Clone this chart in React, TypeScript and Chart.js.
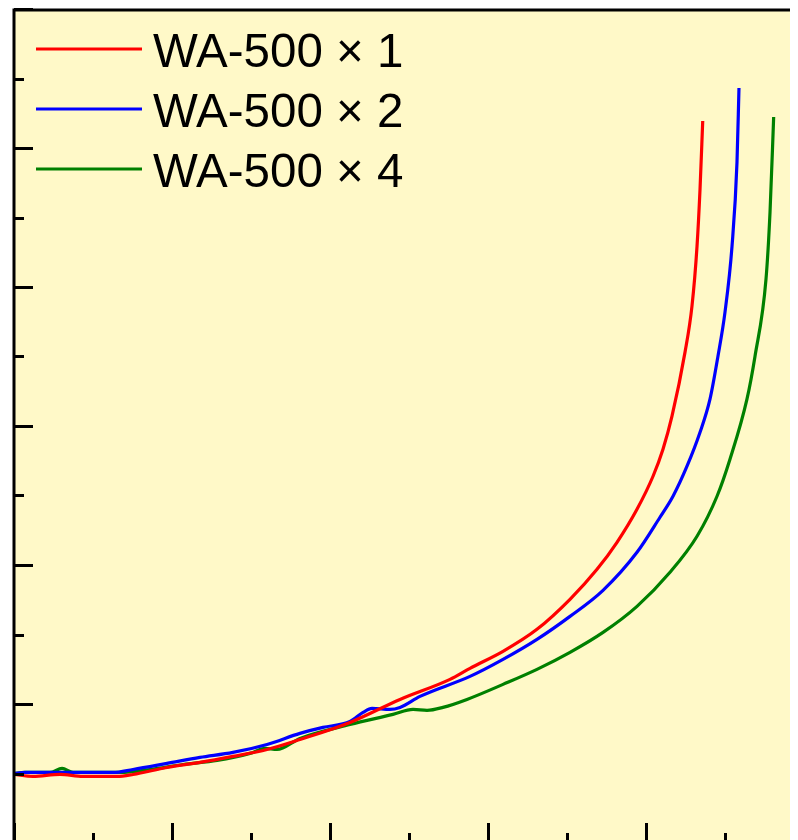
import React, { useEffect, useRef } from "react";
import { Chart, registerables } from "chart.js";

Chart.register(...registerables);

// Series labels
const labels = ["WA-500 × 1", "WA-500 × 2", "WA-500 × 4"];
const colors = ["#ff0000", "#0000ff", "#008000"];

// Axis ranges / ticks (no tick labels shown in the reference)
const xMin = 0;
const xMax = 100;
const xMajorStep = 20;
const xMinorStep = 10;
const yMin = 0;
const yMax = 120;
const yMajorStep = 20;
const yMinorStep = 10;

// Series 1 (red)
const redX = [0, 2.41, 5.82, 8.73, 13.04, 15.06, 19.37, 23.54, 27.72, 32.03, 36.2, 42.53, 48.86, 55.19, 57.72, 61.9, 66.2, 70.38, 73.8, 76.33, 78.86, 80.89, 82.15, 83.29, 84.94, 85.82, 86.46, 86.84, 87.18];
const redY = [9.86, 9.58, 9.86, 9.58, 9.58, 9.86, 10.87, 11.59, 12.46, 13.46, 14.9, 17.35, 20.66, 23.54, 25.13, 27.57, 30.74, 35.06, 39.38, 43.27, 48.02, 52.77, 56.66, 61.41, 70.63, 77.25, 85.89, 94.1, 103.89];

// Series 2 (blue)
const blueX = [0, 1.39, 4.56, 8.73, 12.53, 15.06, 19.37, 23.54, 27.72, 32.03, 36.2, 39.11, 42.53, 44.18, 45.32, 47.59, 48.86, 51.39, 57.72, 61.9, 66.2, 70.38, 74.56, 78.86, 81.77, 83.42, 85.19, 86.84, 88.1, 89.11, 90.0, 90.89, 91.52, 91.77];
const blueY = [10.01, 10.15, 10.15, 10.15, 10.15, 10.58, 11.45, 12.31, 13.03, 14.18, 15.77, 16.63, 17.49, 18.79, 19.37, 19.22, 19.51, 21.09, 23.97, 26.42, 29.3, 32.61, 36.36, 41.83, 46.87, 49.89, 54.21, 59.1, 63.86, 70.05, 76.39, 85.89, 97.98, 108.64];

// Series 3 (green)
const greenX = [0, 1.39, 4.56, 6.08, 7.47, 10.89, 13.42, 17.22, 21.39, 25.7, 29.87, 31.77, 33.29, 36.2, 42.53, 47.97, 50.51, 52.28, 54.3, 57.34, 61.9, 66.2, 70.38, 74.56, 78.86, 83.04, 86.46, 88.99, 90.63, 92.78, 93.8, 95.19, 95.7, 96.16];
const greenY = [10.01, 10.15, 10.15, 10.73, 10.15, 10.15, 10.15, 10.58, 11.3, 11.88, 12.89, 13.61, 13.46, 15.05, 17.06, 18.5, 19.22, 19.08, 19.51, 20.66, 22.82, 24.98, 27.43, 30.3, 34.05, 38.95, 44.13, 49.89, 55.22, 63.86, 70.05, 81.14, 90.79, 104.46];

const seriesX = [redX, blueX, greenX];
const seriesY = [redY, blueY, greenY];

const framePlugin = {
  id: "frameAndTicks",
  beforeDraw(chart: any) {
    const { ctx, chartArea } = chart;
    ctx.save();
    ctx.fillStyle = "#fff9c8";
    ctx.fillRect(chartArea.left, chartArea.top, chart.width - chartArea.left, chart.height - chartArea.top);
    ctx.restore();
  },
  afterDatasetsDraw(chart: any) {
    const { ctx, chartArea } = chart;
    const xs = chart.scales.x;
    const ys = chart.scales.y;
    ctx.save();
    ctx.strokeStyle = "#000";
    ctx.lineWidth = 3;
    ctx.lineCap = "butt";
    // frame
    ctx.beginPath();
    ctx.moveTo(chartArea.left, chart.height);
    ctx.lineTo(chartArea.left, chartArea.top + 1);
    ctx.lineTo(chart.width, chartArea.top + 1);
    ctx.stroke();
    // y ticks (inward)
    for (let v = yMin; v <= yMax; v += yMinorStep) {
      const major = v % yMajorStep === 0;
      const py = Math.round(ys.getPixelForValue(v)) + 0.5;
      ctx.beginPath();
      ctx.moveTo(chartArea.left, py);
      ctx.lineTo(chartArea.left + (major ? 19 : 10), py);
      ctx.stroke();
    }
    // x ticks (inward from bottom)
    for (let v = xMin; v <= xMax; v += xMinorStep) {
      const major = v % xMajorStep === 0;
      const px = Math.round(xs.getPixelForValue(v)) + 0.5;
      ctx.beginPath();
      ctx.moveTo(px, chartArea.bottom);
      ctx.lineTo(px, chartArea.bottom - (major ? 20 : 10));
      ctx.stroke();
    }
    // legend
    const dsets = chart.data.datasets;
    ctx.textBaseline = "alphabetic";
    ctx.textAlign = "left";
    dsets.forEach((ds: any, i: number) => {
      const ly = 41 + 60 * i;
      ctx.strokeStyle = ds.borderColor;
      ctx.lineWidth = 3.2;
      ctx.beginPath();
      ctx.moveTo(28, ly);
      ctx.lineTo(134, ly);
      ctx.stroke();
      ctx.fillStyle = "#000";
      ctx.font = "47.5px 'Liberation Sans', Arial, sans-serif";
      ctx.fillText(ds.label, 145, 59 + 60 * i);
    });
    ctx.restore();
  },
};

export default function App() {
  const ref = useRef<HTMLCanvasElement | null>(null);
  useEffect(() => {
    if (!ref.current) return;
    const chart = new Chart(ref.current, {
      type: "line",
      data: {
        datasets: labels.map((label, i) => ({
          label,
          data: seriesX[i].map((x, j) => ({ x, y: seriesY[i][j] })),
          borderColor: colors[i],
          backgroundColor: colors[i],
          borderWidth: 3.2,
          pointRadius: 0,
          cubicInterpolationMode: "monotone" as const,
          fill: false,
        })),
      },
      options: {
        animation: false,
        responsive: false,
        layout: { padding: { left: 6, top: 1, right: 24, bottom: 25 } },
        plugins: { legend: { display: false }, tooltip: { enabled: false } },
        scales: {
          x: { type: "linear", min: xMin, max: xMax, display: false },
          y: { type: "linear", min: yMin, max: yMax, display: false },
        },
      },
      plugins: [framePlugin],
    });
    return () => chart.destroy();
  }, []);
  return (
    <div style={{ width: 790, height: 832, overflow: "hidden", position: "relative" }}>
      <canvas ref={ref} width={820} height={860} style={{ display: "block" }} />
    </div>
  );
}
